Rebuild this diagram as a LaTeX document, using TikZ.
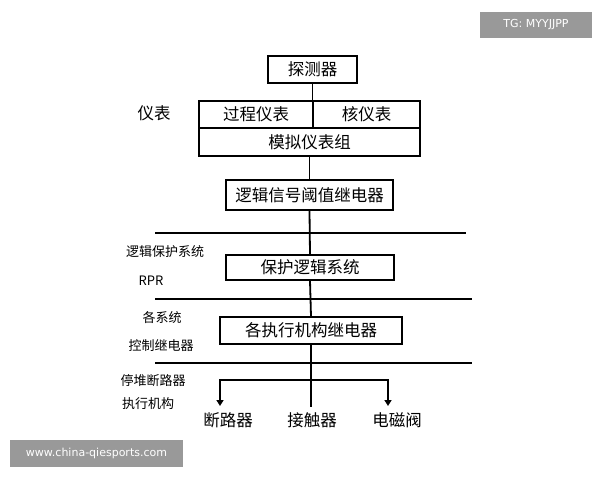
\documentclass[tikz,border=0pt]{standalone}
\usepackage{fontspec}
\setmainfont{Noto Sans CJK SC}
\setsansfont{DejaVu Sans}
\usetikzlibrary{arrows.meta}
\begin{document}
\begin{tikzpicture}[x=1pt,y=-1pt,
  bx/.style={draw,line width=1.6pt,inner sep=0pt,font=\fontsize{16.5}{16.5}\selectfont},
  ln/.style={line width=1.8pt},
  lab/.style={font=\fontsize{13}{13}\selectfont},
  big/.style={font=\fontsize{16.5}{16.5}\selectfont},
  wm/.style={fill=black!40,text=white,inner sep=0pt,font=\sffamily\fontsize{11}{11}\selectfont}]
\useasboundingbox (0,0) rectangle (600,480);
\node[bx,minimum width=89,minimum height=27] (det) at (312.5,69.5) {探测器};
\node[bx,minimum width=114,minimum height=27] (proc) at (256,114.5) {过程仪表};
\node[bx,minimum width=107,minimum height=27] (nuc) at (366.5,114.5) {核仪表};
\node[bx,minimum width=221,minimum height=28] (ana) at (309.5,142) {模拟仪表组};
\node[bx,minimum width=167,minimum height=30] (logic) at (309.5,195) {逻辑信号阈值继电器};
\node[bx,minimum width=168,minimum height=25] (prot) at (310,267.5) {保护逻辑系统};
\node[bx,minimum width=182,minimum height=27] (act) at (311,330.5) {各执行机构继电器};
\coordinate (h1l) at (155,233); \coordinate (h1r) at (466,233);
\coordinate (h2l) at (155,299); \coordinate (h2r) at (472,299);
\coordinate (h3l) at (155,363); \coordinate (h3r) at (472,363);
\draw[ln] (h1l) -- (h1r); \draw[ln] (h2l) -- (h2r); \draw[ln] (h3l) -- (h3r);
\draw[ln] (det.south) -- (312.5,101);
\draw[ln] (ana.south -| logic.north) -- (logic.north);
\draw[ln] (logic.south) -- (prot.north);
\draw[ln] (prot.south) -- (act.north);
\node[big] (brk) at (228,420) {断路器};
\node[big] (con) at (312,420) {接触器};
\node[big] (sol) at (397,420) {电磁阀};
\coordinate (bl) at (220,380); \coordinate (br) at (388,380);
\draw[ln] (act.south) -- (311,407);
\draw[ln,-{Triangle[length=6pt,width=7pt]}] (311,380) -- (bl) -- (220,406);
\draw[ln,-{Triangle[length=6pt,width=7pt]}] (311,380) -- (br) -- (388,406);
\node[big] (l1) at (154,113) {仪表};
\node[lab] (l2) at (165,252) {逻辑保护系统};
\node[lab] (l3) at (151,281) {RPR};
\node[lab] (l4) at (162,318) {各系统};
\node[lab] (l5) at (161,346) {控制继电器};
\node[lab] (l6) at (153,381) {停堆断路器};
\node[lab] (l7) at (148,404) {执行机构};
\node[wm,minimum width=112,minimum height=26] (w1) at (536,25) {TG: MYYJJPP};
\node[wm,minimum width=173,minimum height=27] (w2) at (96.5,453.5) {www.china-qiesports.com};
\end{tikzpicture}
\end{document}
